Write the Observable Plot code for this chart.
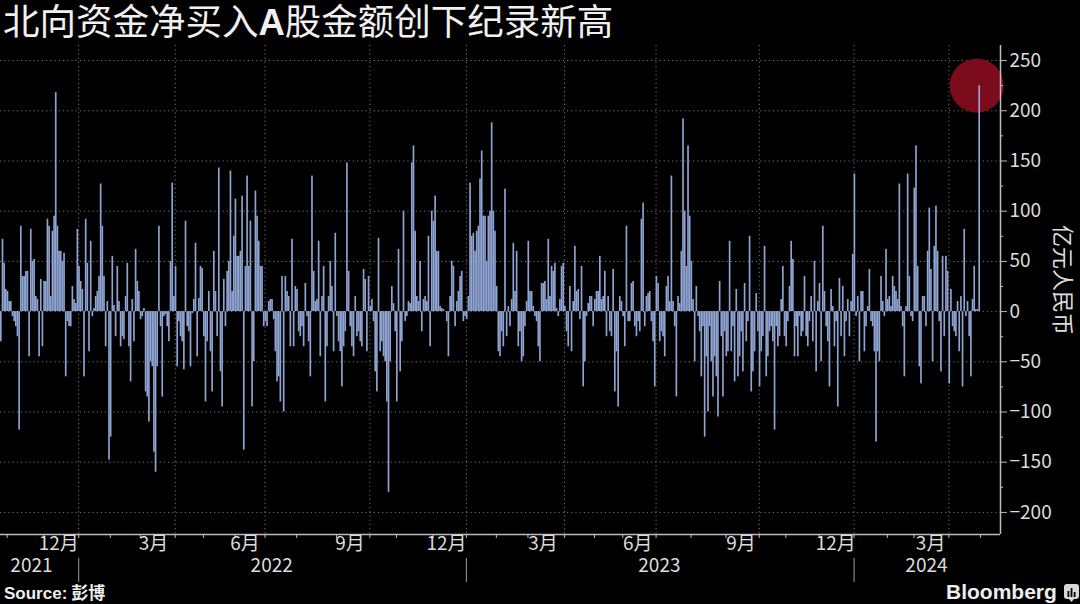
<!DOCTYPE html>
<html>
<head>
<meta charset="utf-8">
<script src="https://cdn.jsdelivr.net/npm/d3@7"></script>
<script src="https://cdn.jsdelivr.net/npm/@observablehq/plot@0.6"></script>
<style>
html,body{margin:0;padding:0;background:#000;}
body{width:1080px;height:604px;position:relative;overflow:hidden;font-family:"Noto Sans CJK SC","Noto Sans",sans-serif;}
#title{position:absolute;left:3px;top:0px;font-size:36.5px;line-height:40px;color:#f0f0f0;white-space:nowrap;}
#title b{font-family:"Liberation Sans","DejaVu Sans",sans-serif;font-weight:bold;}
#chart{position:absolute;left:0;top:0;}
#source{position:absolute;left:4px;top:581px;font-size:17px;line-height:22px;font-weight:bold;color:#eee;}
#source span{font-family:"Liberation Sans",sans-serif;}
#brand{position:absolute;left:946px;top:579px;font-family:"Liberation Sans",sans-serif;font-size:21px;line-height:26px;font-weight:bold;color:#eee;}
#icon{position:absolute;left:1064px;top:584px;}
</style>
</head>
<body>
<div id="chart"></div>
<div id="title">北向资金净买入<b>A</b>股金额创下纪录新高</div>
<div id="source"><span>Source:</span> 彭博</div>
<div id="brand">Bloomberg</div>
<svg id="icon" width="15" height="18" viewBox="0 0 15 18"><rect x="0" y="0" width="15" height="15" rx="3" fill="#d8d8d8"/><path d="M5 15 L7.5 18 L10 15Z" fill="#d8d8d8"/><rect x="3.5" y="7" width="1.8" height="6" fill="#000"/><rect x="6.6" y="4" width="1.8" height="9" fill="#000"/><rect x="9.7" y="8" width="1.8" height="5" fill="#000"/></svg>
<script>
// Daily northbound net buying (亿元人民币), trading-day order, Oct 2021 – Apr 2024
const seriesA = [-30,72,48,22,20,10,10,-5,-10,-15,
  -25,-118,85,35,35,40,40,-45,82,50,
  52,15,12,-45,32,-35,30,30,92,85,
  15,80,95,218,85,60,60,50,58,-65,
  -10,-15,-15,25,12,8,82,45,30,22,
  -65,92,48,-40,70,-5,3,15,20,35,
  127,85,35,-35,10,-148,-125,55,6,-25,
  45,10,-35,-25,-28,15,48,-35,-70,12,
  -30,62,30,20,-8,-5,3,-80,-85,-110,
  -50,-55,-140,-160,-55,85,-15,-85,-5,-3,
  -15,-30,50,128,15,45,-55,-10,-25,-30,
  -58,90,-15,-20,-55,-2,12,68,-45,13,
  45,43,-25,-90,-30,20,-40,-80,60,20,
  -25,143,-60,-95,32,-15,40,50,140,20,
  75,112,55,55,60,115,-138,45,135,45,
  90];
const seriesB = [-95,-50,120,95,70,45,45,-15,-10,
  -15,10,12,12,-8,-40,-70,-65,-90,35,
  -100,35,20,15,-35,72,-35,25,22,-20,
  -25,-15,-35,28,-5,-30,-65,135,40,10,
  12,70,-45,15,45,-90,-35,15,50,25,
  -40,78,-5,-30,-40,-75,-35,-20,148,40,
  -15,-35,-45,15,-25,-20,-30,-35,42,32,
  -40,35,5,12,-10,-60,-80,73,-40,-30,
  -45,-50,-90,-180,-50,25,8,-20,-90,62,
  -60,-30,100,-10,-5,10,8,148,165,80,
  15,10,50,-20,12,15,10,75,-35,100,
  90,115,60,60,5,3,2,0,-10,-45,
  15,50,45,-15,10,20,35,40,-10,-5,
  -8,15,128,75,78,60,80,85,132,160,
  95,95,50,95,100,188,100,80,25,-40,
  -45];
const seriesC = [-20,-35,122,-25,5,-15,12,68,20,60,
  -35,-20,-50,-45,-15,10,70,20,20,5,
  -5,-10,-35,-50,28,28,30,12,72,15,
  45,40,48,3,-5,12,45,48,5,-20,
  -35,25,-40,10,65,20,22,-8,45,-75,
  -50,-5,8,15,15,-15,12,20,20,55,
  12,15,40,-25,15,-20,-25,42,-80,-40,
  -95,15,10,-5,-35,85,-10,-10,28,30,
  -15,-25,-10,-20,92,108,-15,15,18,20,
  -10,-30,-75,35,28,-30,-20,-25,-45,25,
  35,10,135,10,-15,-85,15,8,60,192,
  100,45,165,95,50,12,-50,25,-5,-20,
  -65,-15,-125,-45,-100,-15,-50,-85,-45,-65,
  -105,30,-25,-85,-20,-45,-40,70,-40,-15,
  -70,22,-65,-45,-20,-60,28,-30,-10,75];
const seriesD = [-80,-60,-40,18,-20,-75,-40,-25,65,-65,
  -45,-20,-15,-30,-118,-15,-35,-25,12,45,
  -25,-35,-10,25,70,52,-45,-15,-45,-5,
  -25,-20,35,-25,-35,-10,15,-30,50,-60,
  10,28,-50,85,20,-15,-30,-75,22,5,
  -35,-10,-95,33,-25,25,-45,-10,12,-25,
  10,57,137,-5,15,-50,20,20,-40,-15,
  5,42,-10,-15,-40,-130,-40,-50,35,10,
  -5,62,12,15,5,35,25,20,12,127,
  5,-15,-65,5,137,35,-5,-10,123,165,
  45,-55,-72,15,15,-15,60,103,42,-50,
  65,105,60,-10,-60,55,-25,55,40,-72,
  22,-15,-20,-25,10,-40,15,-75,82,-5,
  10,-25,-65,12,45,2,2,225];

// Axis: trading-day index positions and labels
const monthStarts = [4,26,47,66,84,105,122,141,159,178,202,222,238,260,280,298,317,339,357,374,394,415,436,456,472,492,513,533,549,570,589];
const quarterStarts = [47,105,159,222,280,339,394,456,513,570];
const yearStarts = [47,280,513];
const monthLabels = ["12月","3月","6月","9月","12月","3月","6月","9月","12月","3月"];
const monthLabelPos = [35,92,147,210,268,326,383,445,502,559];
const yearLabels = ["2021","2022","2023","2024"];
const yearLabelPos = [18.6,163,396,556.5];
const yTicks = [-200,-150,-100,-50,0,50,100,150,200,250];
const yMinorTicks = [-175,-125,-75,-25,25,75,125,175,225];
const yUnit = "亿元人民币";

const values = [...seriesA, ...seriesB, ...seriesC, ...seriesD];
const data = values.map((v, i) => ({i, v}));
const peak = [data.reduce((a, b) => (b.v > a.v ? b : a))];
const months = monthLabels.map((label, k) => ({label, i: monthLabelPos[k]}));
const years = yearLabels.map((label, k) => ({label, i: yearLabelPos[k]}));

const txt = "#dcdcdc";
const axisCol = "#bdbdbd";
const font = '"Noto Sans CJK SC","Noto Sans",sans-serif';
const frameH = 604 - 45 - 70;
const frameW = 1080 - 80;

const chart = Plot.plot({
  width: 1080,
  height: 604,
  marginTop: 45,
  marginBottom: 70,
  marginLeft: 0,
  marginRight: 80,
  style: {background: "transparent", color: txt, fontFamily: font, fontSize: "19px"},
  x: {domain: [0, 601], label: null, axis: null},
  y: {domain: [-222, 265], label: null},
  marks: [
    Plot.gridY(yTicks, {stroke: "#8a8a8a", strokeOpacity: 0.85, strokeDasharray: "1.2,3"}),
    Plot.ruleX(quarterStarts, {stroke: "#8a8a8a", strokeOpacity: 0.85, strokeDasharray: "1.2,3"}),
    Plot.dot(peak, {x: d => d.i + 0.5, y: "v", r: 27, fill: "#7c0c1c", stroke: "none", dx: -3}),
    Plot.rectY(data, {x1: "i", x2: d => d.i + 1, y: "v", fill: "#8fa4d3"}),
    Plot.ruleX([601], {stroke: axisCol, strokeWidth: 1.5}),
    Plot.ruleY([-222], {stroke: axisCol, strokeWidth: 1.5}),
    Plot.axisY(yTicks, {anchor: "right", tickSize: 6, tickPadding: 3, stroke: axisCol, fill: txt, fontSize: 19, label: null}),
    // minor y ticks (right side)
    Plot.ruleY(yMinorTicks, {stroke: axisCol, insetLeft: frameW - 3, dx: 3}),
    // month ticks along the bottom axis
    Plot.ruleX(monthStarts, {stroke: axisCol, insetTop: frameH - 4, dy: 4}),
    Plot.text(months, {x: "i", text: "label", frameAnchor: "bottom", dy: 15, fill: txt, fontSize: 19}),
    Plot.text(years, {x: "i", text: "label", frameAnchor: "bottom", dy: 37, fill: txt, fontSize: 19}),
    Plot.ruleX(yearStarts, {stroke: "#9a9a9a", insetTop: frameH - 24, dy: 48}),
    Plot.text([yUnit], {text: d => d, frameAnchor: "right", textAnchor: "middle", dx: 62, dy: -10, rotate: 90, fill: txt, fontSize: 22})
  ]
});
document.getElementById("chart").appendChild(chart);
</script>
</body>
</html>
